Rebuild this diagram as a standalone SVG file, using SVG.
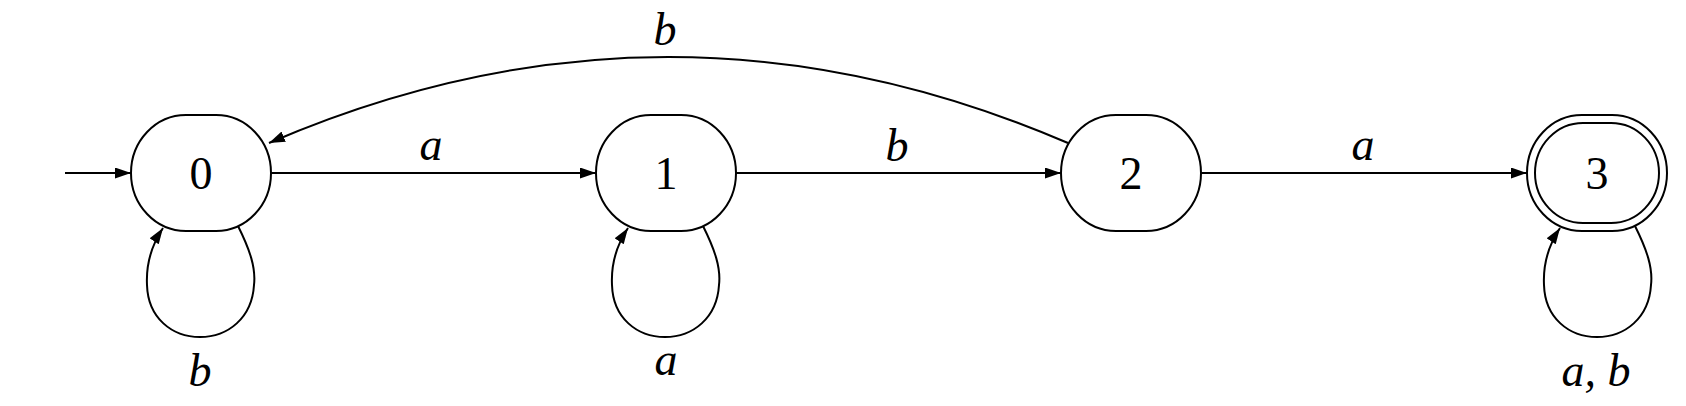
<svg xmlns="http://www.w3.org/2000/svg" width="1686" height="406" viewBox="0 0 1686 406">
<style>
.node{fill:#fff;stroke:#000;stroke-width:2}
.edge{fill:none;stroke:#000;stroke-width:2}
.lbl{font-family:"Liberation Serif","Times New Roman",serif;font-style:italic;font-size:46px;text-anchor:middle;fill:#000}
.num{font-family:"Liberation Serif","Times New Roman",serif;font-size:46px;text-anchor:middle;fill:#000}
</style>
<defs>
<marker id="arr" markerUnits="userSpaceOnUse" markerWidth="17" markerHeight="12" refX="16" refY="5.5" orient="auto">
<path d="M0,0 L16,5.5 L0,11 z" fill="#000"/>
</marker>
</defs>
<rect width="1686" height="406" fill="#fff"/>
<g id="edges">
<path class="edge" d="M65,173 L131,173" marker-end="url(#arr)"/>
<path class="edge" d="M271,173 L596,173" marker-end="url(#arr)"/>
<path class="edge" d="M736,173 L1061,173" marker-end="url(#arr)"/>
<path class="edge" d="M1201,173 L1527,173" marker-end="url(#arr)"/>
<path class="edge" d="M1068,143 Q668,-29 269,143" marker-end="url(#arr)"/>
<path class="edge" d="M238,226 C250,250 256,268 254,285 C252,318 228,337 200,337 C172,337 148,318 147,285 C146,265 151,246 163,228" marker-end="url(#arr)"/>
<path class="edge" d="M703,226 C715,250 721,268 719,285 C717,318 693,337 665,337 C637,337 613,318 612,285 C611,265 616,246 628,228" marker-end="url(#arr)"/>
<path class="edge" d="M1635,226 C1647,250 1653,268 1651,285 C1649,318 1625,337 1597,337 C1569,337 1545,318 1544,285 C1543,265 1548,246 1560,228" marker-end="url(#arr)"/>
<text class="lbl" x="431" y="160">a</text>
<text class="lbl" x="897" y="161">b</text>
<text class="lbl" x="1363" y="160">a</text>
<text class="lbl" x="665" y="45">b</text>
<text class="lbl" x="200" y="386">b</text>
<text class="lbl" x="666" y="375">a</text>
<text class="lbl" x="1596" y="386">a, b</text>
</g>
<g id="node0">
<rect class="node" x="131" y="115" width="140" height="116" rx="55" ry="58"/>
<text class="num" x="201" y="189">0</text>
</g>
<g id="node1">
<rect class="node" x="596" y="115" width="140" height="116" rx="55" ry="58"/>
<text class="num" x="666" y="189">1</text>
</g>
<g id="node2">
<rect class="node" x="1061" y="115" width="140" height="116" rx="55" ry="58"/>
<text class="num" x="1131" y="189">2</text>
</g>
<g id="node3">
<rect class="node" x="1527" y="115" width="140" height="116" rx="55" ry="58"/>
<rect class="node" x="1535" y="123" width="124" height="100" rx="48" ry="50"/>
<text class="num" x="1597" y="189">3</text>
</g>
</svg>
